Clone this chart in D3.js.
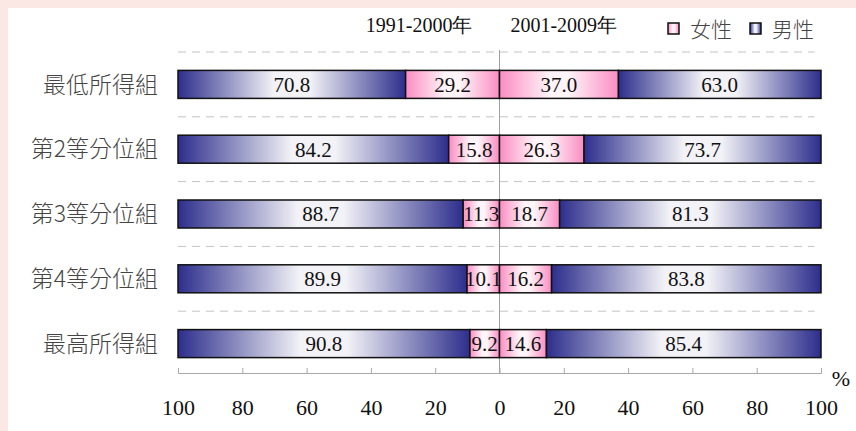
<!DOCTYPE html>
<html>
<head>
<meta charset="utf-8">
<script src="https://cdn.jsdelivr.net/npm/d3@7"></script>
<style>
  body { margin: 0; background: #fbe7e3; }
  svg { display: block; }
  .serif { font-family: "Liberation Serif", "Times New Roman", "DejaVu Serif", serif; }
  .cjk { font-family: "Noto Sans CJK TC", "Noto Sans CJK JP", sans-serif; font-weight: 300; }
</style>
</head>
<body>
<svg width="856" height="431"></svg>
<script>
var categories = ["最低所得組", "第2等分位組", "第3等分位組", "第4等分位組", "最高所得組"];
var male1 = [70.8, 84.2, 88.7, 89.9, 90.8];
var female1 = [29.2, 15.8, 11.3, 10.1, 9.2];
var female2 = [37.0, 26.3, 18.7, 16.2, 14.6];
var male2 = [63.0, 73.7, 81.3, 83.8, 85.4];
var periods = ["1991-2000年", "2001-2009年"];
var legendLabels = ["女性", "男性"];
var tickValues = [-100, -80, -60, -40, -20, 0, 20, 40, 60, 80, 100];

var svg = d3.select("svg"),
    width = +svg.attr("width"),
    height = +svg.attr("height");

// white panel on the pink page
svg.append("rect")
    .attr("x", 8).attr("y", 8)
    .attr("width", width - 8).attr("height", height - 8)
    .attr("fill", "#fff");

var defs = svg.append("defs");
function grad(id, edge, mid) {
    var gr = defs.append("linearGradient").attr("id", id)
        .attr("x1", "0%").attr("x2", "100%").attr("y1", "0%").attr("y2", "0%");
    gr.append("stop").attr("offset", "0%").attr("stop-color", edge);
    gr.append("stop").attr("offset", "42%").attr("stop-color", mid);
    gr.append("stop").attr("offset", "58%").attr("stop-color", mid);
    gr.append("stop").attr("offset", "100%").attr("stop-color", edge);
}
grad("gMale", "#2d2e8c", "#f2f2f7");
grad("gFemale", "#fa8cc2", "#fff4f8");

var x = d3.scaleLinear().domain([-100, 100]).range([178, 821]);
var y = d3.scaleBand().domain(categories).range([52, 376]);
var barH = 28;
function cy(d) { return y(d) + y.bandwidth() / 2; }

// dashed separators
svg.selectAll(".sep")
    .data(categories)
    .enter().append("line")
    .attr("x1", x(-100)).attr("x2", x(98))
    .attr("y1", function(d) { return y(d); })
    .attr("y2", function(d) { return y(d); })
    .attr("stroke", "#c4c4c4")
    .attr("stroke-width", 1)
    .attr("stroke-dasharray", "8,6");

// center line
svg.append("line")
    .attr("x1", x(0)).attr("x2", x(0))
    .attr("y1", 50).attr("y2", 373)
    .attr("stroke", "#a0a0a0")
    .attr("stroke-width", 1);

// segments
var segs = [];
categories.forEach(function(c, i) {
    segs.push({c: c, a: -100, b: -female1[i], fill: "url(#gMale)", v: male1[i]});
    segs.push({c: c, a: -female1[i], b: 0, fill: "url(#gFemale)", v: female1[i]});
    segs.push({c: c, a: 0, b: female2[i], fill: "url(#gFemale)", v: female2[i]});
    segs.push({c: c, a: female2[i], b: 100, fill: "url(#gMale)", v: male2[i]});
});

svg.selectAll(".seg")
    .data(segs)
    .enter().append("rect")
    .attr("x", function(d) { return x(d.a); })
    .attr("y", function(d) { return cy(d.c) - barH / 2; })
    .attr("width", function(d) { return x(d.b) - x(d.a); })
    .attr("height", barH)
    .attr("fill", function(d) { return d.fill; })
    .attr("stroke", "#111")
    .attr("stroke-width", 1.5);

svg.selectAll(".val")
    .data(segs)
    .enter().append("text")
    .attr("class", "serif")
    .attr("x", function(d) { return (x(d.a) + x(d.b)) / 2; })
    .attr("y", function(d) { return cy(d.c); })
    .attr("dy", "0.35em")
    .attr("text-anchor", "middle")
    .style("font-size", "21px")
    .attr("fill", "#111")
    .text(function(d) { return d.v.toFixed(1); });

// category labels
svg.selectAll(".cat")
    .data(categories)
    .enter().append("text")
    .attr("class", "cjk")
    .attr("x", 158)
    .attr("y", function(d) { return cy(d); })
    .attr("dy", "0.36em")
    .attr("text-anchor", "end")
    .style("font-size", "23px")
    .attr("fill", "#444")
    .text(function(d) { return d; });

// axis
var axis = svg.append("g")
    .attr("transform", "translate(0,373)")
    .call(d3.axisBottom(x).tickValues(tickValues)
        .tickSizeInner(-5).tickSizeOuter(-5).tickPadding(26)
        .tickFormat(function(d) { return Math.abs(d); }));
axis.attr("font-family", null);
axis.select(".domain").attr("stroke", "#a8a8a8");
axis.selectAll(".tick line").attr("stroke", "#a8a8a8");
axis.selectAll(".tick text")
    .attr("class", "serif")
    .style("font-size", "22px")
    .attr("fill", "#111");

svg.append("text")
    .attr("class", "serif")
    .attr("x", 841).attr("y", 378)
    .attr("dy", "0.35em")
    .attr("text-anchor", "middle")
    .style("font-size", "22px")
    .attr("fill", "#111")
    .text("%");

// period headers
svg.selectAll(".period")
    .data(periods)
    .enter().append("text")
    .attr("class", "serif")
    .attr("x", function(d, i) { return i === 0 ? x(-25) : x(20); })
    .attr("y", 25)
    .attr("dy", "0.35em")
    .attr("text-anchor", "middle")
    .style("font-size", "20px")
    .attr("fill", "#111")
    .text(function(d) { return d; });

// legend
var leg = svg.selectAll(".leg")
    .data(legendLabels)
    .enter().append("g")
    .attr("transform", function(d, i) { return "translate(" + (668 + i * 82) + ",0)"; });
leg.append("rect")
    .attr("x", 0).attr("y", 23)
    .attr("width", 11).attr("height", 11)
    .attr("fill", function(d, i) { return i === 0 ? "url(#gFemale)" : "url(#gMale)"; })
    .attr("stroke", "#111")
    .attr("stroke-width", 1.5);
leg.append("text")
    .attr("class", "cjk")
    .attr("x", 22).attr("y", 29)
    .attr("dy", "0.36em")
    .style("font-size", "21px")
    .attr("fill", "#444")
    .text(function(d) { return d; });
</script>
</body>
</html>
